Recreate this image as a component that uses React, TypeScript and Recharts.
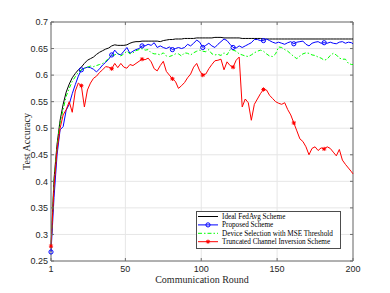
import React from "react";
import {
  LineChart,
  Line,
  XAxis,
  YAxis,
  CartesianGrid,
  ReferenceLine,
  Legend,
} from "recharts";

// sampled rounds (every other round + the final one)
const rounds = [
  1, 3, 5, 7, 9, 11, 13, 15, 17, 19,
  21, 23, 25, 27, 29, 31, 33, 35, 37, 39,
  41, 43, 45, 47, 49, 51, 53, 55, 57, 59,
  61, 63, 65, 67, 69, 71, 73, 75, 77, 79,
  81, 83, 85, 87, 89, 91, 93, 95, 97, 99,
  101, 103, 105, 107, 109, 111, 113, 115, 117, 119,
  121, 123, 125, 127, 129, 131, 133, 135, 137, 139,
  141, 143, 145, 147, 149, 151, 153, 155, 157, 159,
  161, 163, 165, 167, 169, 171, 173, 175, 177, 179,
  181, 183, 185, 187, 189, 191, 193, 195, 197, 199,
  200,
];

const idealFedAvg = [
  0.275, 0.405, 0.47, 0.515, 0.545, 0.568, 0.583, 0.595, 0.603, 0.61,
  0.615, 0.622, 0.628, 0.631, 0.634, 0.639, 0.643, 0.646, 0.649, 0.651,
  0.655, 0.657, 0.656, 0.656, 0.656, 0.657, 0.66, 0.662, 0.663, 0.663,
  0.664, 0.664, 0.664, 0.664, 0.664, 0.664, 0.663, 0.665, 0.666, 0.667,
  0.667, 0.668, 0.668, 0.668, 0.669, 0.669, 0.669, 0.669, 0.67, 0.67,
  0.67, 0.67, 0.67, 0.67, 0.671, 0.671, 0.671, 0.67, 0.67, 0.67,
  0.67, 0.67, 0.67, 0.669, 0.669, 0.669, 0.669, 0.669, 0.669, 0.669,
  0.668, 0.668, 0.668, 0.668, 0.668, 0.668, 0.668, 0.668, 0.668, 0.668,
  0.668, 0.668, 0.668, 0.668, 0.668, 0.668, 0.668, 0.668, 0.668, 0.668,
  0.668, 0.668, 0.668, 0.668, 0.668, 0.668, 0.668, 0.668, 0.668, 0.668,
  0.668,
];

const proposed = [
  0.267, 0.37, 0.45, 0.497, 0.503, 0.534, 0.545, 0.565, 0.582, 0.598,
  0.61, 0.613, 0.615, 0.614, 0.611, 0.606, 0.612, 0.619, 0.624, 0.63,
  0.638, 0.647, 0.64, 0.638, 0.645, 0.652, 0.641, 0.645, 0.648, 0.65,
  0.655, 0.655, 0.658, 0.656, 0.661, 0.652, 0.655, 0.652, 0.65, 0.653,
  0.648, 0.65, 0.652, 0.65, 0.652, 0.658, 0.655, 0.66, 0.666, 0.662,
  0.652, 0.656, 0.66, 0.655, 0.652, 0.658, 0.663, 0.668, 0.665, 0.658,
  0.652, 0.651, 0.655, 0.652, 0.655, 0.658, 0.661, 0.667, 0.667, 0.665,
  0.665, 0.668, 0.665, 0.662, 0.66, 0.662, 0.66, 0.658, 0.661, 0.663,
  0.659, 0.662, 0.663, 0.664, 0.658, 0.655, 0.66, 0.662, 0.663, 0.66,
  0.661, 0.66, 0.662, 0.66, 0.659, 0.662, 0.663, 0.66, 0.662, 0.661,
  0.659,
];

const mseThreshold = [
  0.275, 0.4, 0.465, 0.51, 0.535, 0.56, 0.575, 0.588, 0.597, 0.605,
  0.61, 0.613, 0.615, 0.617, 0.616, 0.618, 0.62, 0.622, 0.626, 0.632,
  0.637, 0.638, 0.641, 0.636, 0.64, 0.645, 0.64, 0.642, 0.646, 0.648,
  0.65, 0.647, 0.648, 0.642, 0.64, 0.64, 0.638, 0.642, 0.636, 0.635,
  0.637, 0.64, 0.64, 0.636, 0.642, 0.641, 0.638, 0.642, 0.645, 0.647,
  0.645, 0.644, 0.648, 0.64, 0.638, 0.639, 0.637, 0.642, 0.638, 0.648,
  0.647, 0.645, 0.64, 0.638, 0.636, 0.635, 0.638, 0.642, 0.645, 0.647,
  0.645, 0.64, 0.636, 0.635, 0.64, 0.653, 0.652, 0.648, 0.645, 0.64,
  0.635, 0.631, 0.636, 0.64, 0.642, 0.641, 0.638, 0.637, 0.634, 0.632,
  0.628, 0.63, 0.637, 0.641, 0.638, 0.632, 0.63, 0.63, 0.622, 0.62,
  0.62,
];

const truncated = [
  0.278, 0.39, 0.46, 0.5, 0.525, 0.535, 0.55, 0.53, 0.57, 0.585,
  0.58, 0.54, 0.572, 0.585, 0.594, 0.598, 0.605, 0.61, 0.616, 0.615,
  0.612, 0.622, 0.614, 0.622, 0.615, 0.613, 0.62, 0.618, 0.622, 0.626,
  0.63, 0.629, 0.632, 0.625, 0.612, 0.608, 0.618, 0.626, 0.607, 0.6,
  0.593, 0.588, 0.575, 0.58, 0.586, 0.595, 0.602, 0.615, 0.622, 0.608,
  0.6, 0.602, 0.612, 0.62, 0.627, 0.628, 0.63, 0.61, 0.625, 0.618,
  0.615, 0.628, 0.634, 0.54, 0.555, 0.548, 0.515, 0.545, 0.555, 0.565,
  0.573, 0.572, 0.562, 0.556, 0.55, 0.547, 0.545, 0.548, 0.535, 0.525,
  0.51, 0.495, 0.48, 0.475, 0.465, 0.45, 0.462, 0.465, 0.458, 0.463,
  0.461, 0.465, 0.462, 0.455, 0.448, 0.46, 0.44, 0.432, 0.425, 0.418,
  0.414,
];

const xTicks = [1, 50, 100, 150, 200];
const yTicks = [0.25, 0.3, 0.35, 0.4, 0.45, 0.5, 0.55, 0.6, 0.65, 0.7];
const markerRounds = [1, 21, 41, 61, 81, 101, 121, 141, 161, 181];

const legendItems = [
  { name: "Ideal FedAvg Scheme", color: "#000000", dash: undefined, marker: "none" },
  { name: "Proposed Scheme", color: "#0000ff", dash: undefined, marker: "circle" },
  { name: "Device Selection with MSE Threshold", color: "#00ff00", dash: "4 2 1.5 2", marker: "none" },
  { name: "Truncated Channel Inversion Scheme", color: "#ff0000", dash: undefined, marker: "star" },
];

const data = rounds.map((r, i) => ({
  round: r,
  ideal: idealFedAvg[i],
  proposed: proposed[i],
  mse: mseThreshold[i],
  truncated: truncated[i],
}));

// plot box (set by margins + axis sizes below)
const LEFT = 51;
const RIGHT = 353;
const TOP = 22;
const BOTTOM = 261;

const SANS = "'Liberation Sans', Arial, Helvetica, sans-serif";
const SERIF = "'Liberation Serif', 'Times New Roman', serif";
const AXIS = "#6e6e6e";

function CircleMark({ cx, cy, color }: any) {
  return <circle cx={cx} cy={cy} r={2.1} fill="none" stroke={color} strokeWidth={1} />;
}

function StarMark({ cx, cy, color }: any) {
  const s = 2.1;
  const d = 1.5;
  return (
    <g stroke={color} strokeWidth={1}>
      <line x1={cx - s} y1={cy} x2={cx + s} y2={cy} />
      <line x1={cx} y1={cy - s} x2={cx} y2={cy + s} />
      <line x1={cx - d} y1={cy - d} x2={cx + d} y2={cy + d} />
      <line x1={cx - d} y1={cy + d} x2={cx + d} y2={cy - d} />
      <circle cx={cx} cy={cy} r={1.1} fill={color} stroke="none" />
    </g>
  );
}

const makeDot = (kind: string, color: string) => (props: any) => {
  const { cx, cy, payload, index } = props;
  if (!markerRounds.includes(payload.round)) return <g key={`d-${kind}-${index}`} />;
  return (
    <g key={`d-${kind}-${index}`}>
      {kind === "circle" ? <CircleMark cx={cx} cy={cy} color={color} /> : <StarMark cx={cx} cy={cy} color={color} />}
    </g>
  );
};

function XTick({ x, y, payload }: any) {
  return (
    <g>
      <line x1={x} x2={x} y1={BOTTOM} y2={BOTTOM - 3} stroke={AXIS} />
      <line x1={x} x2={x} y1={TOP} y2={TOP + 3} stroke={AXIS} />
      <text x={x} y={y} dy={9} textAnchor="middle" fontSize={9} fill="#262626" fontFamily={SANS}>
        {payload.value}
      </text>
    </g>
  );
}

function YTick({ x, y, payload }: any) {
  const label = Number(payload.value.toFixed(2)).toString();
  return (
    <g>
      <line x1={LEFT} x2={LEFT + 3} y1={y} y2={y} stroke={AXIS} />
      <line x1={RIGHT} x2={RIGHT - 3} y1={y} y2={y} stroke={AXIS} />
      <text x={x} y={y} dy={3.2} textAnchor="end" fontSize={9} fill="#262626" fontFamily={SANS}>
        {label}
      </text>
    </g>
  );
}

function LegendBox() {
  const w = 144;
  const h = 37;
  return (
    <svg width={w + 1} height={h + 1} style={{ display: "block", overflow: "visible" }}>
      <rect x={0.5} y={0.5} width={w} height={h} fill="#ffffff" stroke="#4d4d4d" strokeWidth={1} />
      {legendItems.map((it, i) => {
        const cy = 5.5 + i * 8.4;
        return (
          <g key={it.name}>
            <line x1={2} x2={22} y1={cy} y2={cy} stroke={it.color} strokeWidth={1} strokeDasharray={it.dash} />
            {it.marker === "circle" && <CircleMark cx={12} cy={cy} color={it.color} />}
            {it.marker === "star" && <StarMark cx={12} cy={cy} color={it.color} />}
            <text x={26} y={cy} dy={2.5} fontSize={7.2} fontFamily={SERIF} fill="#000">
              {it.name}
            </text>
          </g>
        );
      })}
    </svg>
  );
}

export default function App() {
  return (
    <div style={{ position: "absolute", left: 0, top: 0, background: "#fff" }}>
      <LineChart
        width={390}
        height={293}
        data={data}
        margin={{ top: TOP, right: 390 - RIGHT, left: 0, bottom: 0 }}
      >
        <CartesianGrid stroke="#e6e6e6" strokeWidth={1} />
        <XAxis
          dataKey="round"
          type="number"
          domain={[1, 200]}
          ticks={xTicks}
          height={293 - BOTTOM}
          tickSize={0}
          tickMargin={2}
          tickLine={false}
          tick={<XTick />}
          axisLine={{ stroke: AXIS }}
          label={{ value: "Communication Round", position: "insideBottom", offset: 10, fontSize: 10, fontFamily: SERIF, fill: "#262626" }}
        />
        <YAxis
          type="number"
          domain={[0.25, 0.7]}
          ticks={yTicks}
          width={LEFT}
          tickSize={0}
          tickMargin={3}
          tickLine={false}
          tick={<YTick />}
          axisLine={{ stroke: AXIS }}
          allowDataOverflow
          label={{ value: "Test Accuracy", angle: -90, position: "insideLeft", offset: 26, fontSize: 10, fontFamily: SERIF, fill: "#262626", style: { textAnchor: "middle" } }}
        />
        <ReferenceLine y={0.7} stroke={AXIS} />
        <ReferenceLine x={200} stroke={AXIS} />
        <Line dataKey="ideal" stroke="#000000" strokeWidth={1} dot={false} isAnimationActive={false} />
        <Line dataKey="proposed" stroke="#0000ff" strokeWidth={1} dot={makeDot("circle", "#0000ff")} isAnimationActive={false} />
        <Line dataKey="mse" stroke="#00ff00" strokeWidth={1} strokeDasharray="4 2 1.5 2" dot={false} isAnimationActive={false} />
        <Line dataKey="truncated" stroke="#ff0000" strokeWidth={1} dot={makeDot("star", "#ff0000")} isAnimationActive={false} />
        <Legend
          layout="vertical"
          align="center"
          verticalAlign="middle"
          content={() => <LegendBox />}
          wrapperStyle={{ position: "absolute", left: 196, top: 211, width: 145, height: 38 }}
        />
      </LineChart>
    </div>
  );
}
